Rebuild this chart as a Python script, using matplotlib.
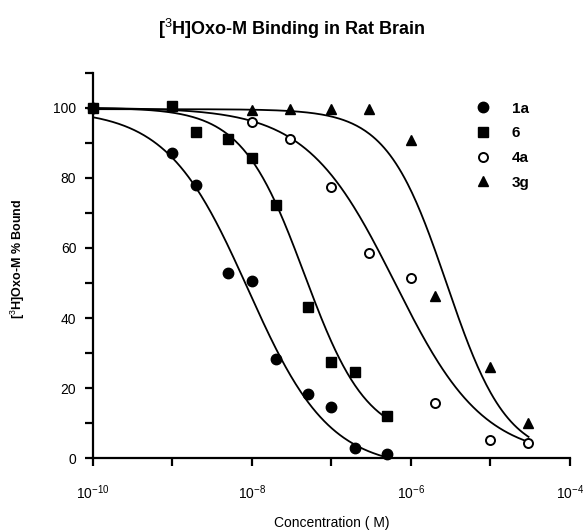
#!/usr/bin/env python3
"""plot.py

Displacement of [3H]Oxo-M binding in rat brain by four compounds,
with the fitted one-site (Hill) curves drawn through each series.
"""

from __future__ import annotations

import matplotlib

matplotlib.use("Agg")

import matplotlib.pyplot as plt
import numpy as np
from matplotlib.lines import Line2D

# --------------------------------------------------------------------------- #
# Data
# --------------------------------------------------------------------------- #
CONC_1A = [1e-10, 1e-9, 2e-9, 5e-9, 1e-8, 2e-8, 5e-8, 1e-7, 2e-7, 5e-7]
BOUND_1A = [100, 87, 78, 53, 50.5, 28.3, 18.3, 14.7, 3, 1.2]

CONC_6 = [1e-10, 1e-9, 2e-9, 5e-9, 1e-8, 2e-8, 5e-8, 1e-7, 2e-7, 5e-7]
BOUND_6 = [100, 100.5, 93, 91, 85.7, 72.4, 43.3, 27.6, 24.5, 12.1]

CONC_4A = [1e-8, 3e-8, 1e-7, 3e-7, 1e-6, 2e-6, 1e-5, 3e-5]
BOUND_4A = [95.9, 91, 77.3, 58.6, 51.4, 15.7, 5.2, 4.3]

CONC_3G = [1e-8, 3e-8, 1e-7, 3e-7, 1e-6, 2e-6, 1e-5, 3e-5]
BOUND_3G = [99.5, 99.7, 99.7, 99.7, 90.7, 46.4, 26, 10]

LABELS = ["1a", "6", "4a", "3g"]

# Fitted curve parameters: top, bottom, log10(IC50), Hill slope, log10 x-range
FIT_1A = [99.5, -3.0, -8.05, 0.85, -10.0, -6.3]
FIT_6 = [100.0, 5.0, -7.34, 1.1, -10.0, -6.28]
FIT_4A = [100.0, 0.0, -6.2, 0.78, -10.0, -4.52]
FIT_3G = [99.6, 0.0, -5.55, 1.15, -10.0, -4.52]

# --------------------------------------------------------------------------- #
# Styling
# --------------------------------------------------------------------------- #
FONT = "Liberation Sans"
plt.rcParams["font.family"] = [FONT, "DejaVu Sans"]
plt.rcParams["mathtext.fontset"] = "custom"
plt.rcParams["mathtext.rm"] = FONT
plt.rcParams["mathtext.it"] = FONT
plt.rcParams["mathtext.bf"] = f"{FONT}:bold"

MARKERS = {
  "1a": dict(marker="o", mfc="black", mec="black", ms=7.5),
  "6": dict(marker="s", mfc="black", mec="black", ms=7),
  "4a": dict(marker="o", mfc="white", mec="black", ms=6.5, mew=1.4),
  "3g": dict(marker="^", mfc="black", mec="black", ms=6.5),
}


def _hill(params: list[float]) -> tuple[np.ndarray, np.ndarray]:
  """Evaluates a four-parameter logistic over the fitted x-range."""
  top, bottom, log_ic50, slope, lo, hi = params
  logx = np.linspace(lo, hi, 300)
  y = bottom + (top - bottom) / (1 + 10 ** (slope * (logx - log_ic50)))
  return 10 ** logx, y


def main() -> None:
  fig = plt.figure(figsize=(5.83, 5.30), dpi=100)
  ax = fig.add_axes([0.1595, 0.1353, 0.818, 0.7275])

  series = [
    ("1a", CONC_1A, BOUND_1A, FIT_1A),
    ("6", CONC_6, BOUND_6, FIT_6),
    ("4a", CONC_4A, BOUND_4A, FIT_4A),
    ("3g", CONC_3G, BOUND_3G, FIT_3G),
  ]
  for name, conc, bound, fit in series:
    cx, cy = _hill(fit)
    ax.plot(cx, cy, color="black", lw=1.3, zorder=2)
  for name, conc, bound, fit in series:
    ax.plot(conc, bound, ls="none", zorder=3, clip_on=False, **MARKERS[name])

  ax.set_xscale("log")
  ax.set_xlim(1e-10, 1e-4)
  ax.set_ylim(0, 110)

  decades = [10.0**e for e in range(-10, -3)]
  ax.set_xticks(decades)
  ax.set_xticklabels(
    [f"$10^{{{e}}}$" if e % 2 == 0 else "" for e in range(-10, -3)]
  )
  ax.xaxis.set_minor_locator(matplotlib.ticker.NullLocator())
  ax.set_yticks(range(0, 111, 10))
  ax.set_yticklabels(
    [str(v) if v % 20 == 0 and v <= 100 else "" for v in range(0, 111, 10)]
  )

  for side in ("top", "right"):
    ax.spines[side].set_visible(False)
  for side in ("left", "bottom"):
    ax.spines[side].set_linewidth(1.6)
  ax.tick_params(axis="both", direction="out", length=6, width=1.6, labelsize=10)
  ax.tick_params(axis="x", pad=12)
  ax.tick_params(axis="y", pad=6)

  ax.set_xlabel("Concentration ( M)", fontsize=10, labelpad=10)
  ax.set_ylabel(r"[$^{3}$H]Oxo-M % Bound", fontsize=9, fontweight="bold")
  ax.yaxis.set_label_coords(-0.138, 0.517)
  fig.text(0.5, 0.945, r"[$^{3}$H]Oxo-M Binding in Rat Brain", ha="center",
           va="center", fontsize=13, fontweight="bold")

  handles = [Line2D([], [], ls="none", **MARKERS[name]) for name in LABELS]
  ax.legend(
    handles, LABELS, loc="upper left", bbox_to_anchor=(0.785, 0.945),
    frameon=False, borderpad=0, handlelength=1.0, handletextpad=1.4,
    labelspacing=0.7, prop={"family": FONT, "weight": "bold", "size": 11},
  )

  fig.savefig("out.png", dpi=100)


if __name__ == "__main__":
  main()
